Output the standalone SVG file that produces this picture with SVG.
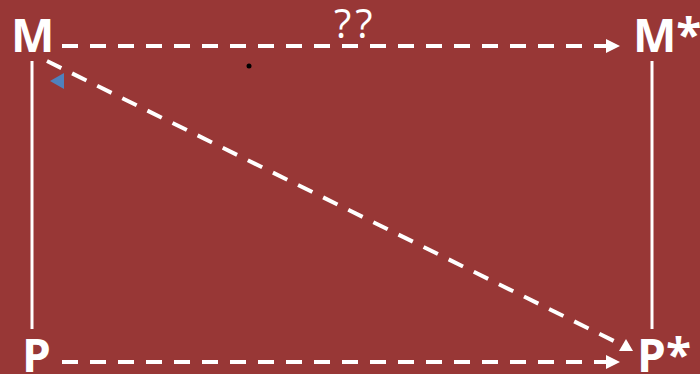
<svg xmlns="http://www.w3.org/2000/svg" width="700" height="374" viewBox="0 0 700 374">
<style>
.lbl{font-family:"Open Sans","Liberation Sans",sans-serif;font-weight:bold;font-size:46px;fill:#fff}
.q{font-family:"Open Sans","Liberation Sans",sans-serif;font-size:40px;letter-spacing:4px;fill:#fff}
.dash{stroke:#fff;stroke-width:4;stroke-dasharray:16 12;fill:none}
.solid{stroke:#fff;stroke-width:3;fill:none}
</style>
<defs>
<marker id="ah" markerWidth="14" markerHeight="14" refX="14" refY="7" orient="auto" markerUnits="userSpaceOnUse">
<path d="M0,0 L14,7 L0,14 Z" fill="#fff"/>
</marker>
</defs>
<rect width="700" height="374" fill="#983736"/>
<g id="connectors">
<line class="solid" x1="32" y1="61" x2="32" y2="329"/>
<line class="solid" x1="652" y1="61" x2="652" y2="329"/>
<line class="dash" x1="62" y1="46" x2="620" y2="46" marker-end="url(#ah)"/>
<line class="dash" x1="62" y1="362" x2="620" y2="362" marker-end="url(#ah)"/>
<line class="dash" x1="47" y1="61" x2="618" y2="343"/>
<path d="M626,339 L633,351 L619,351 Z" fill="#fff"/>
<path d="M50,81 L64,73 L64,89 Z" fill="#4f81bd"/>
</g>
<g id="node-M"><text class="lbl" x="11" y="52">M</text></g>
<g id="node-Mstar"><text class="lbl" x="633" y="52">M*</text></g>
<g id="node-P"><text class="lbl" x="22" y="372">P</text></g>
<g id="node-Pstar"><text class="lbl" x="637" y="372">P*</text></g>
<g id="label"><text class="q" x="334" y="38">??</text></g>
<circle cx="249" cy="66" r="2.5" fill="#000"/>
</svg>
